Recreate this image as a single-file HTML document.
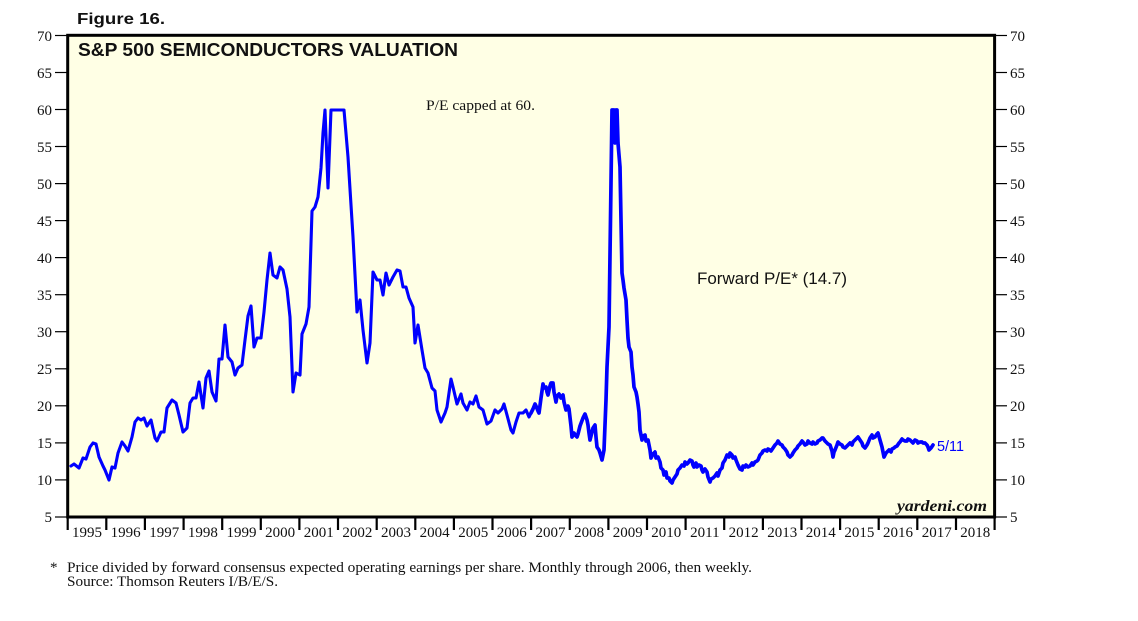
<!DOCTYPE html>
<html><head><meta charset="utf-8"><style>
html,body{margin:0;padding:0;background:#fff;}
svg{display:block;}
</style></head><body>
<svg width="1138" height="621" viewBox="0 0 1138 621" xmlns="http://www.w3.org/2000/svg">
<rect x="0" y="0" width="1138" height="621" fill="#ffffff"/>
<text x="77" y="24" font-family="Liberation Sans, sans-serif" font-weight="bold" font-size="16" textLength="88" lengthAdjust="spacingAndGlyphs" fill="#111">Figure 16.</text>
<rect x="67.7" y="35.3" width="926.9" height="481.7" fill="#ffffe5"/>
<text x="78" y="56" font-family="Liberation Sans, sans-serif" font-weight="bold" font-size="18" textLength="380" lengthAdjust="spacingAndGlyphs" fill="#111">S&amp;P 500 SEMICONDUCTORS VALUATION</text>
<text x="426" y="110" font-family="Liberation Serif, serif" font-size="15" textLength="109" lengthAdjust="spacingAndGlyphs" fill="#111">P/E capped at 60.</text>
<text x="697" y="284" font-family="Liberation Sans, sans-serif" font-size="17" textLength="150" lengthAdjust="spacingAndGlyphs" fill="#111">Forward P/E* (14.7)</text>
<text x="897" y="511" font-family="Liberation Serif, serif" font-weight="bold" font-style="italic" font-size="16" textLength="90" lengthAdjust="spacingAndGlyphs" fill="#111">yardeni.com</text>
<text x="937" y="451" font-family="Liberation Sans, sans-serif" font-size="15" textLength="27" lengthAdjust="spacingAndGlyphs" fill="#0000ff">5/11</text>
<polyline fill="none" stroke="#0000ff" stroke-width="3.1" stroke-linejoin="round" stroke-linecap="round" points="71,466 74,464 79,468 83,458 86,459 90,447 93,443 96,444 99,457 103,466 105,470 109,480 112,467 115,468 118,453 122,442 125,446 128,451 132,437 135,422 138,418 141,420 144,418 147,426 151,420 155,438 157,441 161,432 164,432 167,408 172,400 176,403 179,415 183,432 187,428 190,403 193,398 196,398 199,382 203,408 206,378 209,371 212,392 216,401 219,359 222,359 225,325 228,357 232,362 235,375 238,368 242,365 245,340 248,316 251,306 254,347 257,338 261,338 264,312 267,280 270,253 273,275 277,278 280,267 283,270 287,289 290,317 293,392 296,373 300,375 302,334 306,324 309,307 312,211 315,207 318,197 321,168 323,133 325,110 328,188 331,110 344,110 348,157 353,237 357,312 360,300 363,330 367,363 370,343 373,272 377,280 380,280 383,295 386,273 389,285 393,277 397,270 400,271 403,287 406,287 409,298 413,307 415,343 418,325 422,350 425,368 428,373 432,388 435,391 437,410 441,422 445,413 447,407 451,379 453,387 457,404 461,394 463,403 467,410 470,402 473,404 476,396 479,407 483,410 487,424 491,421 495,410 498,413 502,409 504,404 507,415 511,430 513,433 516,422 519,413 523,413 526,410 529,417 531,413"/>
<polyline fill="none" stroke="#0000ff" stroke-width="3.7" stroke-linejoin="round" stroke-linecap="round" points="531,413 533,409 535,404 536,406 538,411 539,413 541,398 543,384 544,388 546,387 547,392 548,395 550,386 551,383 553,383 554,392 556,402 557,396 559,394 561,398 563,395 564,402 566,410 568,406 569,409 571,426 572,437 574,433 575,435 577,437 578,434 580,426 583,418 585,414 587,420 588,425 589,433 590,440 592,432 593,428 595,425 596,437 597,447 599,450 600,453 602,460 604,450 606,400 607,367 609,327 611,183 612,110 614,110 615,143 616,110 617,110 618,143 620,167 622,273 623,280 624,288 626,300 627,320 628,338 629,347 631,352 632,367 633,375 634,387 636,392 637,397 638,404 639,412 640,430 642,440 643,436 645,435 646,441 648,440 650,450 651,458 653,454 655,452 656,458 658,457 660,462 661,468 663,470 664,475 666,472 667,478 669,478 670,481 672,483 673,480 675,477 677,474 678,470 680,468 682,465 684,466 685,462 687,464 688,463 690,460 692,461 693,465 694,467 696,463 697,467 699,465 701,466 702,470 703,472 705,469 707,472 708,477 710,482 711,479 713,478 715,476 717,473 718,476 720,470 722,468 723,463 725,460 727,455 729,457 730,453 732,455 733,458 735,457 736,460 738,465 740,469 742,470 743,466 745,467 746,465 748,467 750,466 752,463 753,465 755,462 757,461 758,460 760,455 762,453 763,451 765,450 767,451 768,449 770,450 771,451 773,448 775,445 777,443 778,441 780,444 782,445 783,447 785,449 787,452 788,455 790,457 792,455 793,453 795,450 797,448 798,446 800,444 802,441 803,442 805,445 807,444 808,441 810,443 812,444 813,442 815,444 817,443 818,441 820,440 822,438 823,438 825,441 827,443 828,444 830,445 832,451 833,457 834,452 835,450 837,445 838,442 840,444 842,445 843,447 845,448 847,446 848,445 850,443 852,445 853,442 855,440 857,438 858,437 860,440 862,443 863,446 865,448 867,445 868,443 870,438 872,435 873,438 875,437 877,434 878,433 880,440 882,447 883,452 884,457 886,453 887,452 889,450 891,452 892,449 894,448 895,447 897,446 899,443 900,442 902,439 903,440 905,441 907,441 908,439 910,440 912,442 913,443 915,440 917,441 918,443 920,442 922,442 923,443 925,443 927,445 928,447 929,450 931,448 933,445"/>
<rect x="67.7" y="35.3" width="926.9" height="481.7" fill="none" stroke="#000" stroke-width="3"/>
<g stroke="#000" stroke-width="1.2">
<line x1="55" y1="35.5" x2="67" y2="35.5"/><line x1="996" y1="35.5" x2="1007" y2="35.5"/>
<line x1="55" y1="72.5" x2="67" y2="72.5"/><line x1="996" y1="72.5" x2="1007" y2="72.5"/>
<line x1="55" y1="109.5" x2="67" y2="109.5"/><line x1="996" y1="109.5" x2="1007" y2="109.5"/>
<line x1="55" y1="146.5" x2="67" y2="146.5"/><line x1="996" y1="146.5" x2="1007" y2="146.5"/>
<line x1="55" y1="183.6" x2="67" y2="183.6"/><line x1="996" y1="183.6" x2="1007" y2="183.6"/>
<line x1="55" y1="220.6" x2="67" y2="220.6"/><line x1="996" y1="220.6" x2="1007" y2="220.6"/>
<line x1="55" y1="257.6" x2="67" y2="257.6"/><line x1="996" y1="257.6" x2="1007" y2="257.6"/>
<line x1="55" y1="294.7" x2="67" y2="294.7"/><line x1="996" y1="294.7" x2="1007" y2="294.7"/>
<line x1="55" y1="331.7" x2="67" y2="331.7"/><line x1="996" y1="331.7" x2="1007" y2="331.7"/>
<line x1="55" y1="368.8" x2="67" y2="368.8"/><line x1="996" y1="368.8" x2="1007" y2="368.8"/>
<line x1="55" y1="405.8" x2="67" y2="405.8"/><line x1="996" y1="405.8" x2="1007" y2="405.8"/>
<line x1="55" y1="442.9" x2="67" y2="442.9"/><line x1="996" y1="442.9" x2="1007" y2="442.9"/>
<line x1="55" y1="479.9" x2="67" y2="479.9"/><line x1="996" y1="479.9" x2="1007" y2="479.9"/>
<line x1="55" y1="517" x2="67" y2="517"/><line x1="996" y1="517" x2="1007" y2="517"/>
</g>
<g font-family="Liberation Serif, serif" font-size="15" fill="#111" text-anchor="end">
<text x="52" y="41">70</text><text x="52" y="78">65</text><text x="52" y="115">60</text><text x="52" y="152">55</text><text x="52" y="189">50</text><text x="52" y="226">45</text><text x="52" y="263">40</text><text x="52" y="300">35</text><text x="52" y="337">30</text><text x="52" y="374">25</text><text x="52" y="411">20</text><text x="52" y="448">15</text><text x="52" y="485">10</text><text x="52" y="522">5</text>
</g>
<g font-family="Liberation Serif, serif" font-size="15" fill="#111">
<text x="1010" y="41">70</text><text x="1010" y="78">65</text><text x="1010" y="115">60</text><text x="1010" y="152">55</text><text x="1010" y="189">50</text><text x="1010" y="226">45</text><text x="1010" y="263">40</text><text x="1010" y="300">35</text><text x="1010" y="337">30</text><text x="1010" y="374">25</text><text x="1010" y="411">20</text><text x="1010" y="448">15</text><text x="1010" y="485">10</text><text x="1010" y="522">5</text>
</g>
<g stroke="#000" stroke-width="2.2">
<line x1="67.7" y1="517" x2="67.7" y2="530"/>
<line x1="106.3" y1="517" x2="106.3" y2="530"/>
<line x1="144.9" y1="517" x2="144.9" y2="530"/>
<line x1="183.6" y1="517" x2="183.6" y2="530"/>
<line x1="222.2" y1="517" x2="222.2" y2="530"/>
<line x1="260.8" y1="517" x2="260.8" y2="530"/>
<line x1="299.4" y1="517" x2="299.4" y2="530"/>
<line x1="338.0" y1="517" x2="338.0" y2="530"/>
<line x1="376.7" y1="517" x2="376.7" y2="530"/>
<line x1="415.3" y1="517" x2="415.3" y2="530"/>
<line x1="453.9" y1="517" x2="453.9" y2="530"/>
<line x1="492.5" y1="517" x2="492.5" y2="530"/>
<line x1="531.1" y1="517" x2="531.1" y2="530"/>
<line x1="569.8" y1="517" x2="569.8" y2="530"/>
<line x1="608.4" y1="517" x2="608.4" y2="530"/>
<line x1="647.0" y1="517" x2="647.0" y2="530"/>
<line x1="685.6" y1="517" x2="685.6" y2="530"/>
<line x1="724.2" y1="517" x2="724.2" y2="530"/>
<line x1="762.9" y1="517" x2="762.9" y2="530"/>
<line x1="801.5" y1="517" x2="801.5" y2="530"/>
<line x1="840.1" y1="517" x2="840.1" y2="530"/>
<line x1="878.7" y1="517" x2="878.7" y2="530"/>
<line x1="917.3" y1="517" x2="917.3" y2="530"/>
<line x1="956.0" y1="517" x2="956.0" y2="530"/>
<line x1="994.6" y1="517" x2="994.6" y2="530"/>
</g>
<g font-family="Liberation Serif, serif" font-size="15" fill="#111" text-anchor="middle">
<text x="87.0" y="537">1995</text><text x="125.6" y="537">1996</text><text x="164.2" y="537">1997</text><text x="202.9" y="537">1998</text><text x="241.5" y="537">1999</text><text x="280.1" y="537">2000</text><text x="318.7" y="537">2001</text><text x="357.4" y="537">2002</text><text x="396.0" y="537">2003</text><text x="434.6" y="537">2004</text><text x="473.2" y="537">2005</text><text x="511.8" y="537">2006</text><text x="550.5" y="537">2007</text><text x="589.1" y="537">2008</text><text x="627.7" y="537">2009</text><text x="666.3" y="537">2010</text><text x="704.9" y="537">2011</text><text x="743.6" y="537">2012</text><text x="782.2" y="537">2013</text><text x="820.8" y="537">2014</text><text x="859.4" y="537">2015</text><text x="898.0" y="537">2016</text><text x="936.7" y="537">2017</text><text x="975.3" y="537">2018</text>
</g>
<text x="50" y="572" font-family="Liberation Serif, serif" font-size="15" fill="#111">*</text>
<text x="67" y="572" font-family="Liberation Serif, serif" font-size="15" fill="#111" textLength="685" lengthAdjust="spacingAndGlyphs">Price divided by forward consensus expected operating earnings per share. Monthly through 2006, then weekly.</text>
<text x="67" y="586" font-family="Liberation Serif, serif" font-size="15" fill="#111" textLength="211" lengthAdjust="spacingAndGlyphs">Source: Thomson Reuters I/B/E/S.</text>
</svg>
</body></html>
